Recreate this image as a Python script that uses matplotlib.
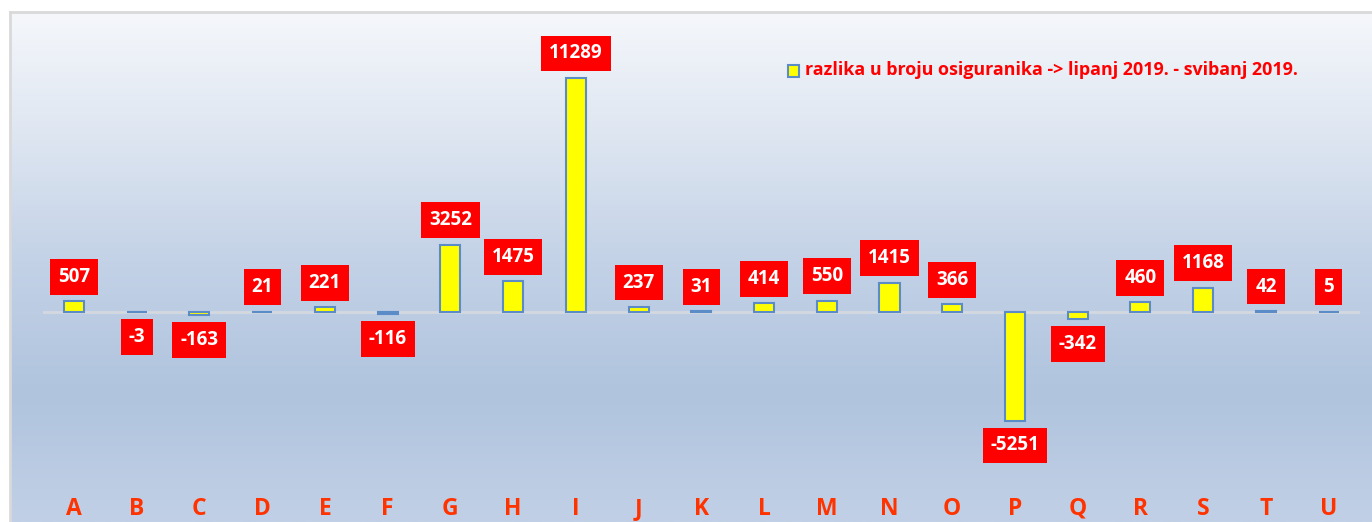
import numpy as np
import matplotlib.pyplot as plt
from matplotlib.colors import LinearSegmentedColormap

categories = ['A', 'B', 'C', 'D', 'E', 'F', 'G', 'H', 'I', 'J', 'K',
              'L', 'M', 'N', 'O', 'P', 'Q', 'R', 'S', 'T', 'U']
razlika = [507, -3, -163, 21, 221, -116, 3252, 1475, 11289, 237, 31,
           414, 550, 1415, 366, -5251, -342, 460, 1168, 42, 5]
legend_label = 'razlika u broju osiguranika -> lipanj 2019. - svibanj 2019.'

W, H = 1372, 522
fig = plt.figure(figsize=(W / 100, H / 100), dpi=100)
fig.patch.set_facecolor('white')

# gradient background of the chart frame
bg = fig.add_axes([10 / W, 0, 1 - 10 / W, 1 - 12 / H])
cmap = LinearSegmentedColormap.from_list(
    'frame', [(0, '#f5f7fb'), (0.2, '#e2e9f3'), (0.5, '#c2d1e6'),
              (0.75, '#b0c4de'), (1, '#c1d0e6')])
grad = np.linspace(0, 1, 256).reshape(-1, 1)
bg.imshow(grad, aspect='auto', cmap=cmap, extent=[0, 1, 0, 1], origin='upper')
bg.set_xlim(0, 1)
bg.set_ylim(0, 1)
bg.axis('off')
bg.plot([0, 0], [0, 1], color='#d9d9d9', lw=2, clip_on=False)
bg.plot([0, 1], [1, 1], color='#d9d9d9', lw=2, clip_on=False)

# main axes
top_px, bot_px, zero_px = 30, 490, 312
scale = (312 - 78) / 11289
ax = fig.add_axes([42.6 / W, (H - bot_px) / H, 1317.4 / W, (bot_px - top_px) / H])
ax.patch.set_alpha(0)
x = np.arange(len(categories))
ax.bar(x, razlika, width=0.32, color='#ffff00', edgecolor='#5b8cc8', linewidth=1.5,
       zorder=3)
ax.axhline(0, color='#d4d9e0', lw=2, zorder=2)
ax.set_xlim(-0.5, len(categories) - 0.5)
ax.set_ylim(-(bot_px - zero_px) / scale, (zero_px - top_px) / scale)
for s in ax.spines.values():
    s.set_visible(False)
ax.set_yticks([])
ax.set_xticks(x)
ax.set_xticklabels(categories, fontsize=16.5, fontweight='bold', color='#ff3300',
                   family='Open Sans')
ax.tick_params(axis='x', length=0, pad=5)

for xi, v in zip(x, razlika):
    off = 10.5 if v >= 0 else -10.5
    ax.annotate(str(v), (xi, v), xytext=(0, off), textcoords='offset points',
                ha='center', va='bottom' if v >= 0 else 'top',
                fontsize=13.5, fontweight='bold', color='white', family='Open Sans',
                bbox=dict(boxstyle='square,pad=0.42', fc='#ff0000', ec='none'),
                zorder=5)

# legend
fig.patches.append(plt.Rectangle((788 / W, 1 - 77 / H), 11 / W, 12 / H,
                                 transform=fig.transFigure, fc='#ffff00',
                                 ec='#5b8cc8', lw=1.5))
fig.text(805 / W, 1 - 70 / H, legend_label, color='#ff0000', fontsize=12.9,
         fontweight='bold', family='Open Sans', va='center', ha='left')

fig.savefig('out.png', dpi=100)
